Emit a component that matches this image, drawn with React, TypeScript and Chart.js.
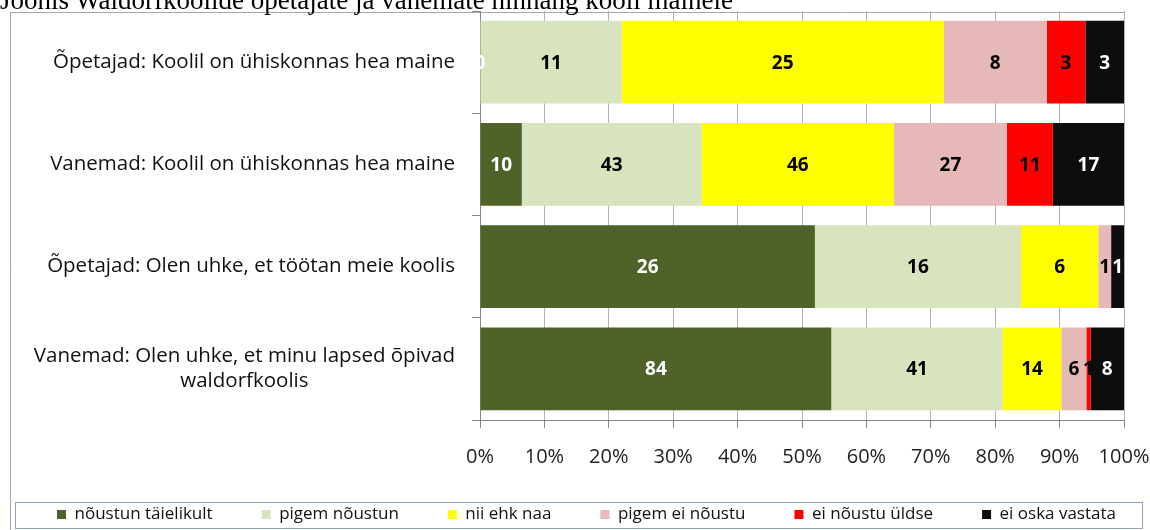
import React, { useEffect, useRef } from "react";
import { Chart, registerables } from "chart.js";

Chart.register(...registerables);

// ---------- data ----------
const titleText = "Joonis Waldorfkoolide õpetajate ja vanemate hinnang kooli mainele";

const categories: (string | string[])[] = [
  "Õpetajad: Koolil on ühiskonnas hea maine",
  "Vanemad: Koolil on ühiskonnas hea maine",
  "Õpetajad: Olen uhke, et töötan meie koolis",
  ["Vanemad: Olen uhke, et minu lapsed õpivad", "waldorfkoolis"],
];

const seriesNames = [
  "nõustun täielikult",
  "pigem nõustun",
  "nii ehk naa",
  "pigem ei nõustu",
  "ei nõustu üldse",
  "ei oska vastata",
];

const noustunTaielikult: (number | null)[] = [0, 10, 26, 84];
const pigemNoustun: (number | null)[] = [11, 43, 16, 41];
const niiEhkNaa: (number | null)[] = [25, 46, 6, 14];
const pigemEiNoustu: (number | null)[] = [8, 27, 1, 6];
const eiNoustuUldse: (number | null)[] = [3, 11, null, 1];
const eiOskaVastata: (number | null)[] = [3, 17, 1, 8];

const xTicks = [0, 10, 20, 30, 40, 50, 60, 70, 80, 90, 100];

const seriesColors = ["#4F6228", "#D7E4BD", "#FFFF00", "#E6B9B8", "#FF0000", "#0D0D0D"];
const labelColors = ["#FFFFFF", "#000000", "#000000", "#000000", "#000000", "#FFFFFF"];

const FONT = "'Open Sans', sans-serif";
const CAT_FONT_SIZE = 20.5;
const CAT_LINE_HEIGHT = 25;
const LEGEND_PADDING = 49;
const LEGEND_FONT_SIZE = 17;
const LEGEND_START_X = 57;
const LEGEND_TOP = 457;

export default function App() {
  const ref = useRef<HTMLCanvasElement>(null);

  useEffect(() => {
    if (!ref.current) return;
    const allSeries = [noustunTaielikult, pigemNoustun, niiEhkNaa, pigemEiNoustu, eiNoustuUldse, eiOskaVastata];
    const totals = categories.map((_, i) =>
      allSeries.reduce((s, ser) => s + (ser[i] ?? 0), 0)
    );

    const datasets = allSeries.map((ser, k) => ({
      label: seriesNames[k],
      data: ser.map((v, i) => (v === null ? null : (v / totals[i]) * 100)),
      counts: ser,
      backgroundColor: seriesColors[k],
      borderWidth: 0,
      categoryPercentage: 1,
      barPercentage: 0.81,
    }));

    const zeroPadding = (scale: any) => {
      scale.paddingTop = 0;
      scale.paddingBottom = 0;
      scale.paddingLeft = 0;
      scale.paddingRight = 0;
    };

    const framePlugin = {
      id: "frame",
      beforeDraw(chart: any) {
        const ctx = chart.ctx;
        ctx.save();
        ctx.fillStyle = "#fff";
        ctx.fillRect(0, 0, chart.width, chart.height);
        ctx.strokeStyle = "#a6a6a6";
        ctx.lineWidth = 1;
        ctx.beginPath();
        ctx.moveTo(10.5, 530);
        ctx.lineTo(10.5, 12.5);
        ctx.lineTo(1124, 12.5);
        ctx.stroke();
        ctx.strokeStyle = "#8fa5bf";
        ctx.strokeRect(15.5, 502.5, 1127, 26);
        ctx.restore();
      },
    };

    const legendSizePlugin = {
      id: "legendSize",
      beforeInit(chart: any) {
        const legend = chart.legend;
        if (!legend) return;
        const orig = legend.fit;
        legend.fit = function () {
          this.maxWidth = 1400;
          orig.call(this);
          this.width = 1124;
          this.height = 62;
        };
      },
      afterLayout(chart: any) {
        const legend = chart.legend;
        if (!legend || !legend.lineWidths) return;
        const lw = legend.lineWidths[0];
        legend.right = 1400;
        legend.left = 2 * LEGEND_START_X - LEGEND_PADDING - legend.right + lw;
        legend.top = LEGEND_TOP;
        legend.bottom = 530;
      },
    };

    const catLabelsPlugin = {
      id: "catLabels",
      afterDraw(chart: any) {
        const ctx = chart.ctx;
        const yScale = chart.scales.y;
        ctx.save();
        ctx.font = `${CAT_FONT_SIZE}px ${FONT}`;
        ctx.fillStyle = "#111";
        ctx.textAlign = "center";
        ctx.textBaseline = "middle";
        const rightEdge = 455;
        categories.forEach((cat, i) => {
          const lines = Array.isArray(cat) ? cat : [cat];
          const w = Math.max(...lines.map((l) => ctx.measureText(l).width));
          const cx = rightEdge - w / 2;
          const yc = yScale.getPixelForTick(i);
          lines.forEach((l, j) => {
            ctx.fillText(l, cx, yc + (j - (lines.length - 1) / 2) * CAT_LINE_HEIGHT);
          });
        });
        ctx.restore();
      },
    };

    const labelsPlugin = {
      id: "barLabels",
      afterDatasetsDraw(chart: any) {
        const ctx = chart.ctx;
        const area = chart.chartArea;
        ctx.save();
        ctx.beginPath();
        ctx.rect(area.left, area.top, area.right - area.left, area.bottom - area.top);
        ctx.clip();
        ctx.font = `bold 19px ${FONT}`;
        ctx.textAlign = "center";
        ctx.textBaseline = "middle";
        chart.data.datasets.forEach((ds: any, k: number) => {
          const meta = chart.getDatasetMeta(k);
          meta.data.forEach((el: any, i: number) => {
            const c = ds.counts[i];
            if (c === null || c === undefined) return;
            const x = (el.x + el.base) / 2;
            ctx.fillStyle = labelColors[k];
            ctx.fillText(String(c), x, el.y + 1);
          });
        });
        ctx.restore();
      },
    };

    const chart = new Chart(ref.current, {
      type: "bar",
      data: { labels: categories, datasets: datasets as any },
      options: {
        indexAxis: "y",
        responsive: false,
        animation: false,
        layout: { padding: { top: 11, left: 0, right: 26, bottom: 0 } },
        scales: {
          x: {
            stacked: true,
            min: 0,
            max: 100,
            afterBuildTicks(scale: any) {
              scale.ticks = xTicks.map((v) => ({ value: v }));
            },
            afterFit(scale: any) {
              scale.height = 48;
              zeroPadding(scale);
            },
            grid: {
              color: "#b3b3b3",
              lineWidth: 1,
              drawTicks: true,
              tickLength: 8,
              tickColor: "#868686",
            },
            border: { display: true, color: "#868686" },
            ticks: {
              padding: 17,
              color: "#222",
              font: { family: FONT, size: 20 },
              callback: (v: any) => v + "%",
              maxRotation: 0,
            },
          },
          y: {
            stacked: true,
            afterFit(scale: any) {
              scale.width = 480;
              zeroPadding(scale);
            },
            grid: {
              drawOnChartArea: false,
              drawTicks: true,
              tickLength: 8,
              color: "#868686",
            },
            border: { display: true, color: "#868686" },
            ticks: {
              color: "rgba(0,0,0,0)",
              padding: 16,
              font: { family: FONT, size: CAT_FONT_SIZE },
            },
          },
        },
        plugins: {
          legend: {
            position: "bottom",
            labels: {
              boxWidth: 9,
              boxHeight: 9,
              padding: LEGEND_PADDING,
              color: "#111",
              font: { family: FONT, size: LEGEND_FONT_SIZE },
            },
          },
          tooltip: { enabled: false },
          title: { display: false },
        },
      },
      plugins: [framePlugin, legendSizePlugin, labelsPlugin, catLabelsPlugin],
    });
    return () => chart.destroy();
  }, []);

  return (
    <div
      style={{
        position: "absolute",
        left: 0,
        top: 0,
        width: 1150,
        height: 530,
        overflow: "hidden",
        background: "#fff",
      }}
    >
      <canvas ref={ref} width={1150} height={530} style={{ display: "block" }} />
      <div
        style={{
          position: "absolute",
          left: 0,
          top: -13,
          fontFamily: "'Liberation Serif', serif",
          fontSize: 27,
          lineHeight: "27px",
          whiteSpace: "nowrap",
          color: "#000",
        }}
      >
        {titleText}
      </div>
    </div>
  );
}
